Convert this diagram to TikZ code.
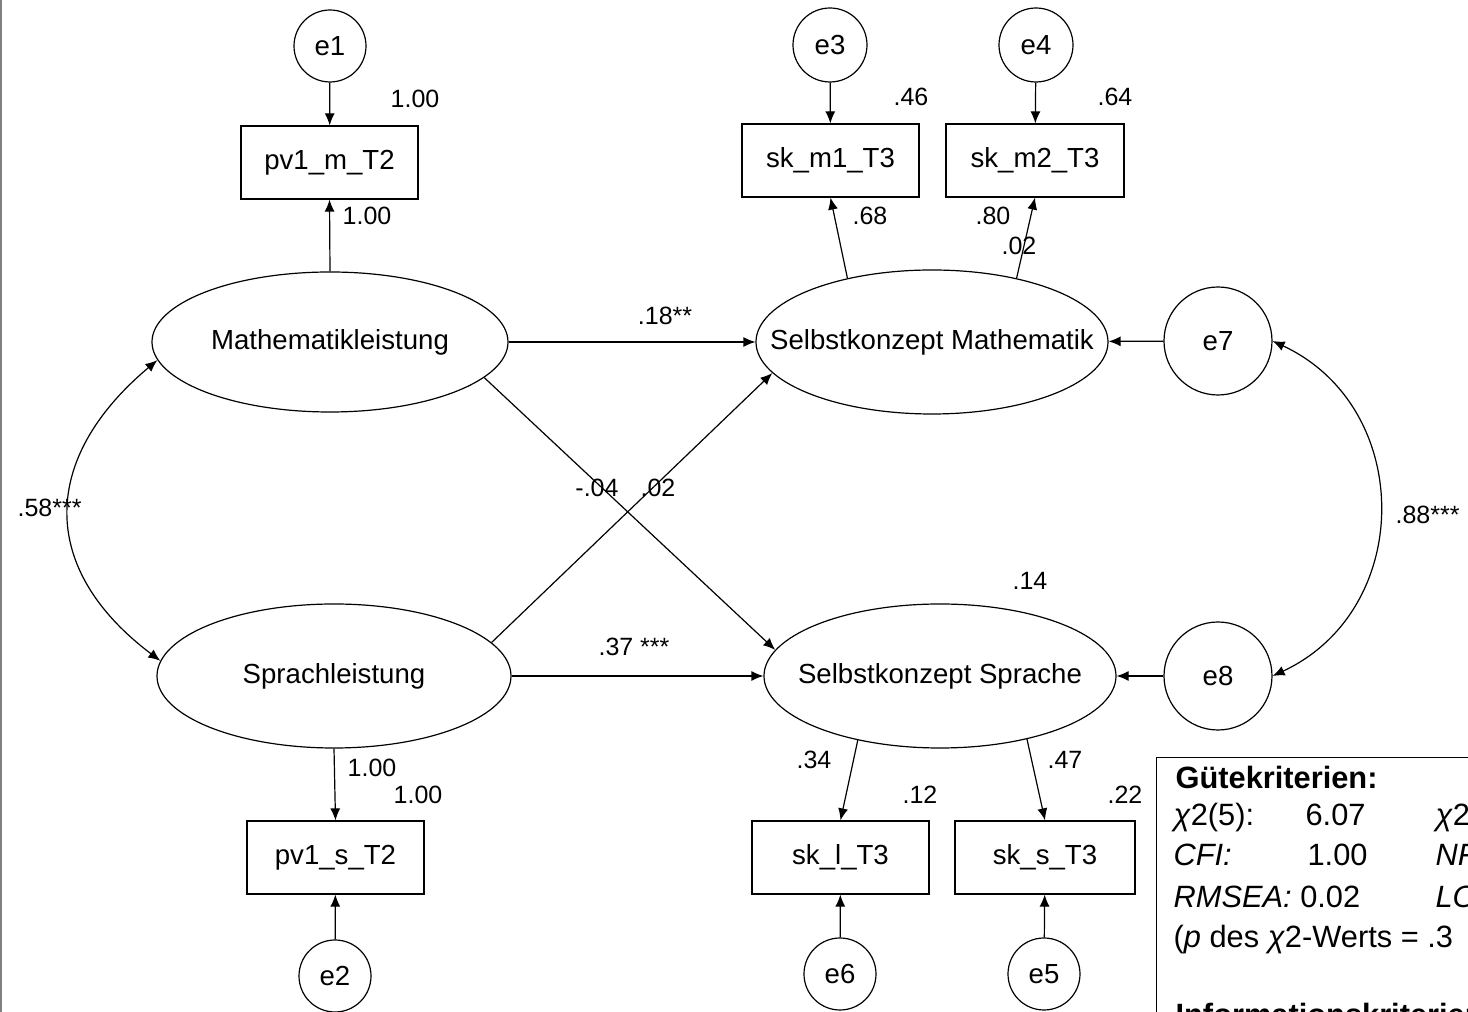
\documentclass[tikz,border=0pt]{standalone}
\usepackage{fontspec}
\setmainfont{Liberation Sans}
\usetikzlibrary{arrows.meta, shapes.geometric}

\begin{document}
\begin{tikzpicture}[
    x=0.5pt, y=0.5pt,
    line width=0.6pt,
    >={Latex[length=6pt,width=5pt]}, % Arrow style
    every label/.style={inner sep=0pt, font=\fontsize{13.8}{16}\selectfont},
    latent/.style={draw, ellipse, inner sep=0pt},
    obs/.style={draw, rectangle, minimum width=88.5pt, minimum height=36.5pt, inner sep=0pt, font=\fontsize{13.8}{16}\selectfont},
    err/.style={draw, circle, minimum size=36pt, inner sep=0pt, font=\fontsize{13.8}{16}\selectfont},
    bigerr/.style={err, minimum size=54pt},
    coef/.style={inner sep=0pt, font=\fontsize{12.5}{14}\selectfont},
    fitline/.style={anchor=base west, inner sep=0pt, font=\fontsize{15.4}{18}\selectfont}
]
\useasboundingbox (0,0) rectangle (1468,1012);
\clip (0,0) rectangle (1468,1012);
\fill[white] (0,0) rectangle (1468,1012);
\draw[gray, line width=1pt] (1,0) -- (1,1012);

% Latent variables
\node[latent, minimum width=178pt, minimum height=70pt, label=center:Mathematikleistung] (ML) at (330,670) {};
\node[latent, minimum width=177pt, minimum height=72pt, label=center:Sprachleistung] (SL) at (334,336) {};
\node[latent, minimum width=176pt, minimum height=72pt, label=center:Selbstkonzept Mathematik] (SKM) at (932,670) {};
\node[latent, minimum width=176pt, minimum height=72pt, label=center:Selbstkonzept Sprache] (SKS) at (940,336) {};

% Indicators
\node[obs] (pvm) at (329.5,849.5) {pv1\_m\_T2};
\node[obs] (pvs) at (335.5,154.5) {pv1\_s\_T2};
\node[obs] (skma) at (830.5,851.5) {sk\_m1\_T3};
\node[obs, minimum width=89pt] (skmb) at (1035,851.5) {sk\_m2\_T3};
\node[obs] (skl) at (840.5,154.5) {sk\_l\_T3};
\node[obs, minimum width=90pt] (sks) at (1045,154.5) {sk\_s\_T3};

% Error terms
\node[err] (e1) at (330,966) {e1};
\node[err] (e2) at (335,36) {e2};
\node[err, minimum size=37pt] (e3) at (830,967) {e3};
\node[err, minimum size=37pt] (e4) at (1036,967) {e4};
\node[err] (e5) at (1044,38) {e5};
\node[err] (e6) at (840,38) {e6};
\node[bigerr] (e7) at (1218,671) {e7};
\node[bigerr] (e8) at (1218,336) {e8};

% Arrows
\draw[->] (e1) -- (pvm);
\draw[->] (ML.north) -- (pvm.south);
\draw[->] (SL.south) -- (pvs.north);
\draw[->] (e2) -- (pvs);
\draw[->] (e3) -- (skma);
\draw[->] (e4) -- (skmb);
\draw[->] (SKM.143) -- (skma.south);
\draw[->] (SKM.37) -- (skmb.south);
\draw[->] (SKS.218) -- (skl.north);
\draw[->] (SKS.324) -- (sks.north);
\draw[->] (e6) -- (skl);
\draw[->] (e5) -- (sks);
\draw[->] (ML.east) -- (SKM.west);
\draw[->] (ML.-13) -- (SKS.171);
\draw[->] (SL.12) -- (SKM.191);
\draw[->] (SL.east) -- (SKS.west);
\draw[->] (e7) -- (SKM);
\draw[->] (e8) -- (SKS);
\draw[<->] (ML.186) to[out=220, in=143, looseness=1.3] (SL.175);
\draw[<->] (e7.east) to[out=-25, in=25, looseness=1.2] (e8.east);

% Estimates
\node[coef] (c1) at (415,913) {1.00};
\node[coef] (c2) at (367,796) {1.00};
\node[coef] (c3) at (372,244) {1.00};
\node[coef] (c4) at (418,217) {1.00};
\node[coef] (c5) at (911,915) {.46};
\node[coef] (c6) at (1115,915) {.64};
\node[coef] (c7) at (870,796) {.68};
\node[coef] (c8) at (993,796) {.80};
\node[coef] (c9) at (1019,766) {.02};
\node[coef] (c10) at (665,696) {.18**};
\node[coef] (c11) at (597,524) {-.04};
\node[coef] (c12) at (658,524) {.02};
\node[coef] (c13) at (634,365) {.37 ***};
\node[coef] (c14) at (1030,431) {.14};
\node[coef] (c15) at (814,252) {.34};
\node[coef] (c16) at (920,217) {.12};
\node[coef] (c17) at (1065,252) {.47};
\node[coef] (c18) at (1125,217) {.22};
\node[coef, anchor=west] (c19) at (17,504) {.58***};
\node[coef, anchor=west] (c20) at (1395,497) {.88***};

% Fit indices
\node[draw, anchor=north west, minimum width=200pt, minimum height=150pt, inner sep=0pt] (gk) at (1156,255) {};
\node[fitline] (gk1) at (1175,223) {\textbf{Gütekriterien:}};
\node[fitline] (gk2) at (1173,186) {\textit{χ}2(5):};
\node[fitline] (gk3) at (1305,186) {6.07};
\node[fitline] (gk4) at (1435,186) {\textit{χ}2};
\node[fitline] (gk5) at (1173,146) {\textit{CFI:}};
\node[fitline] (gk6) at (1307,146) {1.00};
\node[fitline] (gk7) at (1435,146) {\textit{NF}};
\node[fitline] (gk8) at (1173,104) {\textit{RMSEA:} 0.02};
\node[fitline] (gk9) at (1435,104) {\textit{LO}};
\node[fitline] (gk10) at (1173,64) {(\textit{p} des \textit{χ}2-Werts = .3};
\node[fitline] (gk11) at (1175,-14) {\textbf{Informationskriterien}};

\end{tikzpicture}
\end{document}
